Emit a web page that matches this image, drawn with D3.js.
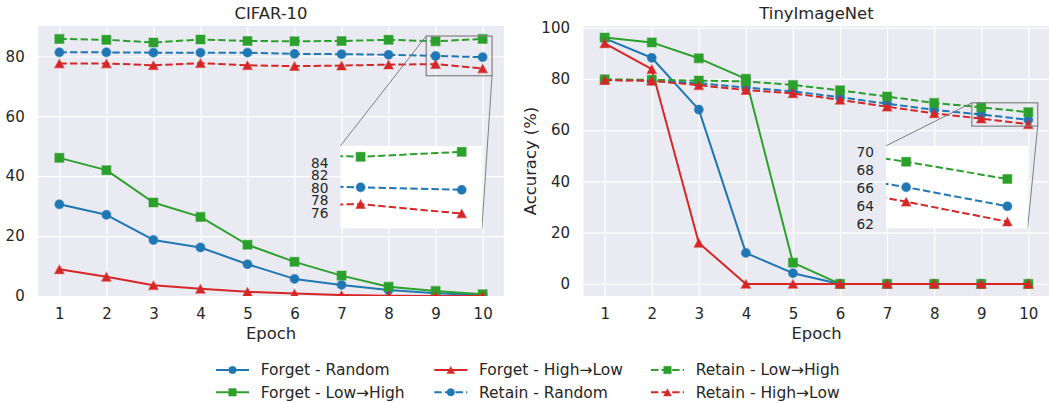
<!DOCTYPE html>
<html><head><meta charset="utf-8">
<script src="https://cdn.jsdelivr.net/npm/d3@7"></script>
<style>
html,body{margin:0;padding:0;background:#fff;}
svg{display:block;font-family:"DejaVu Sans",sans-serif;}
</style></head>
<body><svg id="chart" width="1049" height="403"></svg>
<script>
// ---------------- data ----------------
const epochs = [1, 2, 3, 4, 5, 6, 7, 8, 9, 10];
const xTicks = [1, 2, 3, 4, 5, 6, 7, 8, 9, 10];
const panelTitles = ["CIFAR-10", "TinyImageNet"];
const seriesNames = ["Forget - Random", "Forget - Low\u2192High", "Forget - High\u2192Low",
                     "Retain - Random", "Retain - Low\u2192High", "Retain - High\u2192Low"];

const cifarForgetRandom  = [30.6, 27.1, 18.7, 16.2, 10.6, 5.7, 3.7, 2.0, 0.9, 0.3];
const cifarForgetLowHigh = [46.1, 42.0, 31.2, 26.4, 17.1, 11.4, 6.8, 3.1, 1.7, 0.6];
const cifarForgetHighLow = [8.9, 6.4, 3.6, 2.4, 1.4, 0.8, 0.3, 0.1, 0.0, 0.0];
const cifarRetainRandom  = [81.3, 81.3, 81.2, 81.2, 81.2, 80.8, 80.7, 80.5, 80.1, 79.7];
const cifarRetainLowHigh = [85.8, 85.5, 84.6, 85.6, 85.1, 85.0, 85.1, 85.5, 85.0, 85.8];
const cifarRetainHighLow = [77.6, 77.6, 77.0, 77.7, 77.0, 76.7, 76.9, 77.2, 77.4, 75.9];

const tinyForgetRandom  = [95.8, 88.2, 68.0, 12.1, 4.2, 0, 0, 0, 0, 0];
const tinyForgetLowHigh = [96.1, 94.2, 88.0, 80.0, 8.3, 0, 0, 0, 0, 0];
const tinyForgetHighLow = [93.8, 83.8, 16.0, 0, 0, 0, 0, 0, 0, 0];
const tinyRetainRandom  = [79.6, 79.3, 78.3, 76.6, 75.1, 72.8, 70.3, 67.9, 66.1, 64.0];
const tinyRetainLowHigh = [79.8, 79.6, 79.3, 79.0, 77.6, 75.5, 73.1, 70.6, 68.9, 67.0];
const tinyRetainHighLow = [79.5, 79.2, 77.5, 75.6, 74.3, 71.8, 69.1, 66.5, 64.5, 62.3];

const cifarYTicks = [0, 20, 40, 60, 80];
const tinyYTicks = [0, 20, 40, 60, 80, 100];
const cifarInsetTicks = [76, 78, 80, 82, 84];
const tinyInsetTicks = [62, 64, 66, 68, 70];

// ---------------- styles ----------------
const colors = ["#1f77b4", "#2ca02c", "#d62728", "#1f77b4", "#2ca02c", "#d62728"];
const markers = ["circle", "square", "triangle", "circle", "square", "triangle"];
const dashed = [false, false, false, true, true, true];
const textColor = "#262626";

const panels = [
  { title: panelTitles[0], x0: 38.2, x1: 503.8, yDomain: [0, 90.1], yTicks: cifarYTicks,
    series: [cifarForgetRandom, cifarForgetLowHigh, cifarForgetHighLow, cifarRetainRandom, cifarRetainLowHigh, cifarRetainHighLow],
    inset: { xDomain: [8.8, 10.2], yDomain: [73.5, 86.75], ticks: cifarInsetTicks }, ylabel: false },
  { title: panelTitles[1], x0: 583.5, x1: 1049.5, yDomain: [-4.7, 100.6], yTicks: tinyYTicks,
    series: [tinyForgetRandom, tinyForgetLowHigh, tinyForgetHighLow, tinyRetainRandom, tinyRetainLowHigh, tinyRetainHighLow],
    inset: { xDomain: [8.8, 10.2], yDomain: [61.55, 70.65], ticks: tinyInsetTicks }, ylabel: true }
];
const yTop = 26, yBot = 296;

const svg = d3.select("#chart");
const defs = svg.append("defs");

function markerPath(type, s) {
  if (type === "circle") return d3.symbol().type(d3.symbolCircle).size(Math.PI * s * s / 4)();
  if (type === "square") { const h = s / 2; return `M${-h},${-h}H${h}V${h}H${-h}Z`; }
  const w = s * 0.52, h = s * 0.48;
  return `M0,${-h}L${w},${h}L${-w},${h}Z`;
}

function drawSeries(g, xs, ys, data, i, msize) {
  const line = d3.line().x((d, k) => xs(epochs[k])).y(d => ys(d));
  g.append("path").attr("d", line(data)).attr("fill", "none")
    .attr("stroke", colors[i]).attr("stroke-width", 2)
    .attr("stroke-dasharray", dashed[i] ? "7.4,3.2" : null)
    .attr("stroke-linejoin", "round");
  g.selectAll(null).data(data).enter().append("path")
    .attr("d", markerPath(markers[i], msize))
    .attr("transform", (d, k) => `translate(${xs(epochs[k])},${ys(d)})`)
    .attr("fill", colors[i]).attr("stroke", colors[i]).attr("stroke-opacity", 0.45).attr("stroke-width", 1.2);
}

panels.forEach((p, pi) => {
  const xs = d3.scaleLinear().domain([0.55, 10.45]).range([p.x0, p.x1]);
  const ys = d3.scaleLinear().domain(p.yDomain).range([yBot, yTop]);
  const g = svg.append("g");
  g.append("rect").attr("x", p.x0).attr("y", yTop).attr("width", p.x1 - p.x0).attr("height", yBot - yTop).attr("fill", "#eaeaf2");

  // grid
  const xAxis = d3.axisBottom(xs).tickValues(xTicks).tickSize(-(yBot - yTop)).tickPadding(9).tickFormat(d3.format("d"));
  const gx = g.append("g").attr("transform", `translate(0,${yBot})`).call(xAxis);
  gx.select(".domain").remove();
  gx.selectAll(".tick line").attr("stroke", "#fff").attr("stroke-width", 1.2);
  gx.selectAll(".tick text").attr("fill", textColor).attr("font-size", 15).attr("font-family", "DejaVu Sans").attr("dy", "0.95em");

  const yAxis = d3.axisLeft(ys).tickValues(p.yTicks).tickSize(-(p.x1 - p.x0)).tickPadding(13.5).tickFormat(d3.format("d"));
  const gy = g.append("g").attr("transform", `translate(${p.x0},0)`).call(yAxis);
  gy.select(".domain").remove();
  gy.selectAll(".tick line").attr("stroke", "#fff").attr("stroke-width", 1.2);
  gy.selectAll(".tick text").attr("fill", textColor).attr("font-size", 15).attr("font-family", "DejaVu Sans");

  // clip
  const cid = "clip" + pi;
  defs.append("clipPath").attr("id", cid).append("rect")
    .attr("x", p.x0).attr("y", yTop).attr("width", p.x1 - p.x0).attr("height", yBot - yTop);
  const gd = g.append("g").attr("clip-path", `url(#${cid})`);
  p.series.forEach((s, i) => drawSeries(gd, xs, ys, s, i, 9));

  // title & labels
  const cx = (p.x0 + p.x1) / 2;
  g.append("text").attr("x", cx).attr("y", 19.3).attr("text-anchor", "middle")
    .attr("font-size", 16.4).attr("fill", textColor).text(p.title);
  g.append("text").attr("x", cx).attr("y", 339.3).attr("text-anchor", "middle")
    .attr("font-size", 16.4).attr("fill", textColor).text("Epoch");
  if (p.ylabel) {
    g.append("text").attr("transform", `translate(536,${(yTop + yBot) / 2}) rotate(-90)`)
      .attr("text-anchor", "middle").attr("font-size", 16.4).attr("fill", textColor).text("Accuracy (%)");
  }

  // inset
  const W = p.x1 - p.x0, H = yBot - yTop;
  const ix0 = p.x0 + 0.649 * W, ix1 = ix0 + 0.304 * W;
  const iy0 = yTop + 0.444 * H, iy1 = iy0 + 0.306 * H;
  const ixs = d3.scaleLinear().domain(p.inset.xDomain).range([ix0, ix1]);
  const iys = d3.scaleLinear().domain(p.inset.yDomain).range([iy1, iy0]);

  // indicator rectangle in main axes
  const rx0 = xs(p.inset.xDomain[0]), rx1 = xs(p.inset.xDomain[1]);
  const ry0 = ys(p.inset.yDomain[1]), ry1 = ys(p.inset.yDomain[0]);
  g.append("rect").attr("x", rx0).attr("y", ry0).attr("width", rx1 - rx0).attr("height", ry1 - ry0)
    .attr("fill", "none").attr("stroke", "#808080").attr("stroke-width", 1.2);
  g.append("line").attr("x1", rx0).attr("y1", ry0).attr("x2", ix0).attr("y2", iy0).attr("stroke", "#808080").attr("stroke-width", 1);
  g.append("line").attr("x1", rx1).attr("y1", ry1).attr("x2", ix1).attr("y2", iy1).attr("stroke", "#808080").attr("stroke-width", 1);

  g.append("rect").attr("x", ix0).attr("y", iy0).attr("width", ix1 - ix0).attr("height", iy1 - iy0).attr("fill", "#fff");
  const icid = "iclip" + pi;
  defs.append("clipPath").attr("id", icid).append("rect")
    .attr("x", ix0).attr("y", iy0).attr("width", ix1 - ix0).attr("height", iy1 - iy0);
  const gi = g.append("g").attr("clip-path", `url(#${icid})`);
  p.series.forEach((s, i) => { if (dashed[i]) drawSeries(gi, ixs, iys, s, i, 9); });
  const iAxis = d3.axisLeft(iys).tickValues(p.inset.ticks).tickSize(0).tickPadding(12).tickFormat(d3.format("d"));
  const giy = g.append("g").attr("transform", `translate(${ix0},0)`).call(iAxis);
  giy.select(".domain").remove();
  giy.selectAll(".tick text").attr("fill", textColor).attr("font-size", 13.7).attr("font-family", "DejaVu Sans");
});

// ---------------- legend ----------------
const colX = [216, 434.3, 651];
const rowY = [370, 392.3];
const lg = svg.append("g");
seriesNames.forEach((name, i) => {
  const col = Math.floor(i / 2), row = i % 2;
  const x = colX[col], y = rowY[row];
  const g = lg.append("g").attr("transform", `translate(${x},${y})`);
  g.append("line").attr("x1", 0).attr("x2", 33).attr("y1", 0).attr("y2", 0)
    .attr("stroke", colors[i]).attr("stroke-width", 2).attr("stroke-dasharray", dashed[i] ? "7.4,3.2" : null);
  g.append("path").attr("d", markerPath(markers[i], 7.5)).attr("transform", "translate(16.5,0)")
    .attr("fill", colors[i]).attr("stroke", colors[i]).attr("stroke-opacity", 0.45).attr("stroke-width", 1);
  g.append("text").attr("x", 44.7).attr("y", 0).attr("dy", "0.35em")
    .attr("font-size", 15.5).attr("fill", textColor).text(name);
});
</script></body></html>
